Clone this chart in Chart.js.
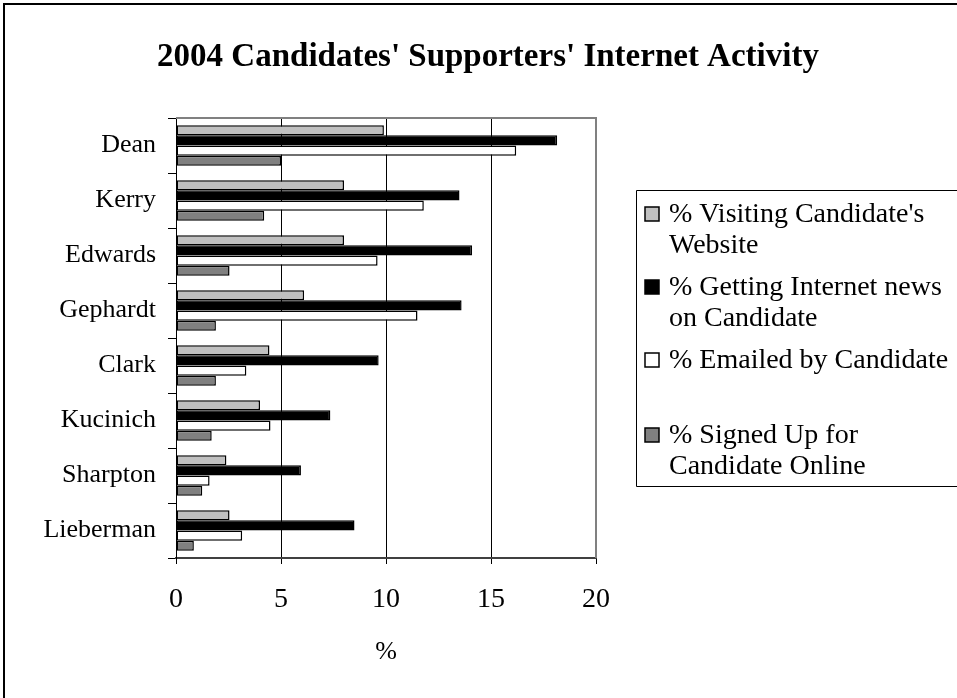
<!DOCTYPE html>
<html>
<head>
<meta charset="utf-8">
<title>2004 Candidates' Supporters' Internet Activity</title>
<script src="https://cdn.jsdelivr.net/npm/chart.js@4/dist/chart.umd.min.js"></script>
<style>
  html, body { margin: 0; padding: 0; background: #fff; }
  #wrap { position: relative; width: 957px; height: 698px; }
</style>
</head>
<body>
<div id="wrap"><canvas id="myChart" width="957" height="698"></canvas></div>
<script>
const candidates = ['Dean', 'Kerry', 'Edwards', 'Gephardt', 'Clark', 'Kucinich', 'Sharpton', 'Lieberman'];

const visitingSite = [9.9, 8.0, 8.0, 6.1, 4.45, 4.0, 2.4, 2.55];
const internetNews = [18.15, 13.5, 14.1, 13.6, 9.65, 7.35, 5.95, 8.5];
const emailedBy = [16.2, 11.8, 9.6, 11.5, 3.35, 4.5, 1.6, 3.15];
const signedUp = [5.0, 4.2, 2.55, 1.9, 1.9, 1.7, 1.25, 0.85];

const seriesNames = [
  "% Visiting Candidate's Website",
  '% Getting Internet news on Candidate',
  '% Emailed by Candidate',
  '% Signed Up for Candidate Online'
];
// wrapped lines for the legend box
const legendLines = [
  ["% Visiting Candidate's", 'Website'],
  ['% Getting Internet news', 'on Candidate'],
  ['% Emailed by Candidate'],
  ['% Signed Up for', 'Candidate Online']
];
const xTicks = [0, 5, 10, 15, 20];

const FONT = '"Liberation Serif", "Times New Roman", serif';
const fills = ['#c0c0c0', '#000000', '#ffffff', '#808080'];

// page frame, title and the boxed legend on the right
const decorations = {
  id: 'decorations',
  beforeDraw(chart) {
    const ctx = chart.ctx;
    ctx.save();
    ctx.fillStyle = '#fff';
    ctx.fillRect(0, 0, chart.width, chart.height);
    ctx.strokeStyle = '#000';
    ctx.lineWidth = 2;
    ctx.beginPath();
    ctx.moveTo(4, chart.height);
    ctx.lineTo(4, 4);
    ctx.lineTo(chart.width, 4);
    ctx.stroke();
    ctx.restore();
  },
  afterDraw(chart) {
    const ctx = chart.ctx;
    const area = chart.chartArea;
    ctx.save();
    // plot area outline (top and right)
    ctx.strokeStyle = '#808080';
    ctx.lineWidth = 2;
    ctx.beginPath();
    ctx.moveTo(area.left, area.top);
    ctx.lineTo(area.right, area.top);
    ctx.lineTo(area.right, area.bottom);
    ctx.stroke();

    ctx.fillStyle = '#000';
    ctx.font = 'bold 33px ' + FONT;
    ctx.textAlign = 'center';
    ctx.textBaseline = 'alphabetic';
    ctx.fillText("2004 Candidates' Supporters' Internet Activity", 488, 66);

    // legend box runs off the right edge
    ctx.strokeStyle = '#000';
    ctx.lineWidth = 1;
    ctx.beginPath();
    ctx.moveTo(chart.width, 190.5);
    ctx.lineTo(636.5, 190.5);
    ctx.lineTo(636.5, 486.5);
    ctx.lineTo(chart.width, 486.5);
    ctx.stroke();
    ctx.font = '28px ' + FONT;
    ctx.textAlign = 'left';
    const baselines = [222, 295, 368, 443];
    chart.data.datasets.forEach((ds, i) => {
      const y = baselines[i];
      ctx.fillStyle = ds.backgroundColor;
      ctx.fillRect(645, y - 15, 14, 14);
      ctx.strokeStyle = '#000';
      ctx.lineWidth = 1.5;
      ctx.strokeRect(645, y - 15, 14, 14);
      ctx.fillStyle = '#000';
      legendLines[i].forEach((line, j) => {
        ctx.fillText(line, 669, y + j * 31);
      });
    });
    ctx.restore();
  }
};

const ctx = document.getElementById('myChart').getContext('2d');
new Chart(ctx, {
  type: 'bar',
  data: {
    labels: candidates,
    datasets: [visitingSite, internetNews, emailedBy, signedUp].map((values, i) => ({
      label: seriesNames[i],
      data: values,
      backgroundColor: fills[i],
      borderColor: '#000',
      borderWidth: 1.5,
      borderSkipped: false,
      categoryPercentage: 0.74,
      barPercentage: 1.0
    }))
  },
  options: {
    indexAxis: 'y',
    responsive: false,
    animation: false,
    layout: { padding: { top: 118, right: 361, bottom: 0, left: 0 } },
    plugins: {
      legend: { display: false },
      title: { display: false },
      tooltip: { enabled: false }
    },
    scales: {
      x: {
        min: 0,
        max: 20,
        afterBuildTicks(scale) {
          scale.ticks = xTicks.map(v => ({ value: v }));
        },
        afterFit(scale) { scale.height = 140; },
        grid: {
          color: c => (c.tick && c.tick.value === 20 ? '#808080' : '#000'),
          lineWidth: 1,
          drawTicks: true,
          tickLength: 6,
          tickColor: '#000'
        },
        border: { display: true, color: '#404040', width: 2 },
        ticks: {
          color: '#000',
          font: { family: FONT, size: 28 },
          padding: 19,
          maxRotation: 0
        },
        title: {
          display: true,
          text: '%',
          color: '#000',
          font: { family: FONT, size: 26 },
          padding: { top: 0, bottom: 30 }
        }
      },
      y: {
        afterFit(scale) { scale.width = 176; },
        grid: {
          drawOnChartArea: false,
          drawTicks: true,
          tickLength: 8,
          color: '#000'
        },
        border: { display: true, color: '#000', width: 1 },
        ticks: {
          color: '#000',
          font: { family: FONT, size: 26 },
          padding: 12
        }
      }
    }
  },
  plugins: [decorations]
});
</script>
</body>
</html>
